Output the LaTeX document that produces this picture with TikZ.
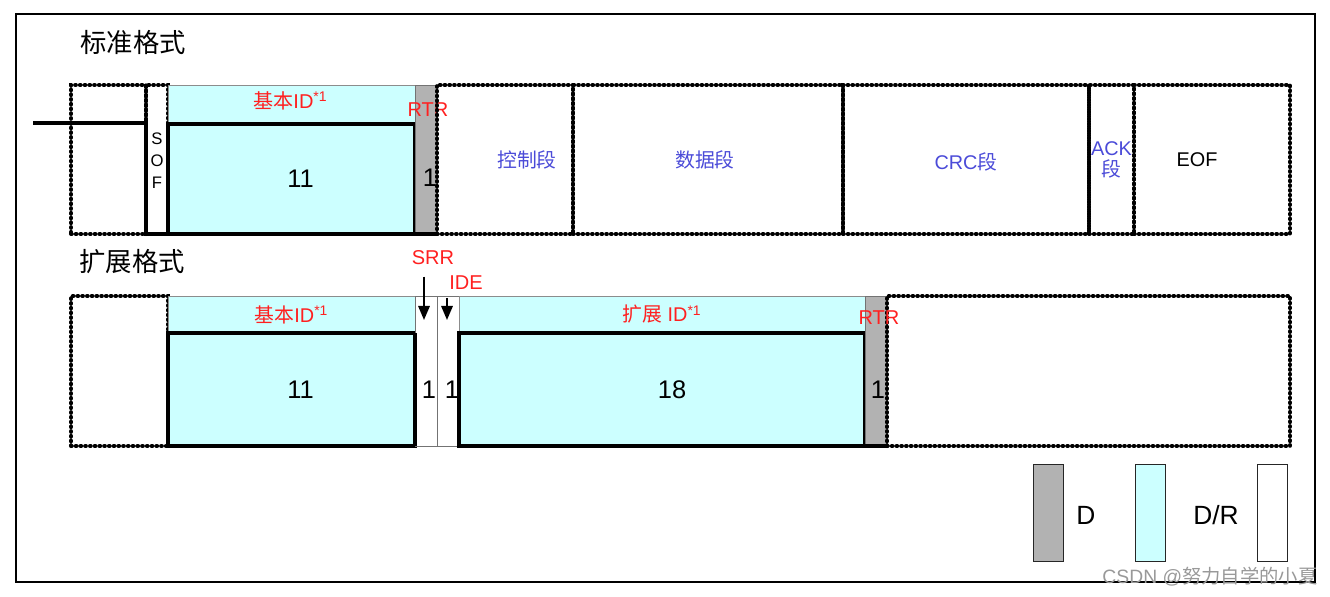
\documentclass[tikz,border=0pt]{standalone}
\usepackage{fontspec}
\setmainfont{Liberation Sans}
\newfontfamily\cjk{Noto Sans CJK SC}
\usetikzlibrary{arrows.meta,positioning}
\definecolor{idcyan}{HTML}{CCFFFF}
\definecolor{bitgray}{HTML}{B2B2B2}
\definecolor{fieldblue}{HTML}{4B4BD8}
\definecolor{lblred}{HTML}{FF2020}
\newcommand{\px}{0.02cm}
\tikzset{
  field/.style={draw=black, line width=2.3pt, dash pattern=on 0.4pt off 2.3pt, line cap=round, anchor=north west, inner sep=0pt, outer sep=0pt},
  fieldtext/.style={font=\cjk\fontsize{11.3}{14}\selectfont, text=fieldblue, inner sep=0pt},
  idtop/.style={draw=black!45, line width=0.5pt, fill=idcyan, anchor=north west, inner sep=0pt, outer sep=0pt, font=\fontsize{11.3}{13}\selectfont, text=lblred},
  idbox/.style={draw=black, line width=2.8pt, fill=idcyan, anchor=north west, inner sep=0pt, outer sep=0pt},
  bitcol/.style={draw=black!55, line width=0.5pt, anchor=north west, inner sep=0pt, outer sep=0pt, minimum width=22*\px},
  bus/.style={line width=2.8pt},
  pointer/.style={-{Triangle[length=8pt,width=6.5pt]}, line width=1.1pt},
  keybox/.style={draw=black!85, line width=0.7pt, anchor=north west, inner sep=0pt, minimum width=30*\px, minimum height=97*\px}
}
\begin{document}
\begin{tikzpicture}[x=\px, y=-\px,
  title/.style={font=\cjk\fontsize{15}{18}\selectfont},
  lbl/.style={font=\fontsize{11.4}{13}\selectfont, text=lblred},
  num/.style={font=\fontsize{14.5}{17}\selectfont, inner sep=0pt}
]
\useasboundingbox (0,0) rectangle (1330,596);
% frame
\draw[line width=0.6pt] (16,14) rectangle (1315,582);
\draw[line width=1.2pt] (16,14) -- (16,582) -- (1315,582);

% standard format
\node[title] (std) at (133,42) {标准格式};
\node[field, minimum width=75*\px, minimum height=149*\px] (idle) at (71,85) {};
\node[field, minimum width=22*\px, minimum height=149*\px] (sofgap) at (146,85) {};
\node[idtop, minimum width=247*\px, minimum height=38*\px, label={[lbl, inner sep=0pt, xshift=-1*\px, yshift=3*\px]center:{\cjk 基本}ID\textsuperscript{*1}}] (baseidtop) at (168,85) {};
\node[idbox, minimum width=247*\px, minimum height=110*\px, label={[num, xshift=9*\px]center:11}] (baseid) at (168,124) {};
\node[bitcol, fill=bitgray, minimum height=149*\px] (rtr) at (415,85) {};
\node[num] (rtrbit) at (430,178) {1};
\node[lbl] (rtrlbl) at (428,110) {RTR};
\node[font=\fontsize{9.5}{12.5}\selectfont, align=center] (sof) at (157,161) {S\\O\\F};
\node[field, minimum width=136*\px, minimum height=149*\px, label={[fieldtext, xshift=22*\px]center:控制段}] (ctrl) at (437,85) {};
\node[field, minimum width=270*\px, minimum height=149*\px, label={[fieldtext, xshift=-3*\px]center:数据段}] (data) at (573,85) {};
\node[field, minimum width=246*\px, minimum height=149*\px, label={[fieldtext, yshift=-2*\px]center:{\rmfamily CRC}段}] (crc) at (843,85) {};
\node[field, minimum width=45*\px, minimum height=149*\px, label={[fieldtext, align=center]center:{\rmfamily ACK}\\[-2pt]段}] (ack) at (1089,85) {};
\node[field, minimum width=156*\px, minimum height=149*\px, label={[fieldtext, text=black, xshift=-15*\px]center:\rmfamily EOF}] (eof) at (1134,85) {};
\coordinate (busstart) at (33,123);
\draw[bus] (busstart) -| (sofgap.south west) -- (rtr.south east);

% extended format
\node[title] (ext) at (132,262) {扩展格式};
\node[field, minimum width=97*\px, minimum height=150*\px] (xidle) at (71,296) {};
\node[idtop, minimum width=247*\px, minimum height=37*\px] (xbaseidtop) at (168,296) {{\cjk 基本}ID\textsuperscript{*1}};
\node[idbox, minimum width=247*\px, minimum height=113*\px, label={[num, xshift=9*\px]center:11}] (xbaseid) at (168,333) {};
\node[bitcol, fill=white, minimum height=150*\px] (srrbit) at (415,296) {};
\node[bitcol, fill=white, minimum height=150*\px] (idebit) at (437,296) {};
\node[num] (srrval) at (429,390) {1};
\node[num] (ideval) at (452,390) {1};
\node[idtop, minimum width=406*\px, minimum height=37*\px] (xidtop) at (459,296) {{\cjk 扩展} ID\textsuperscript{*1}};
\node[idbox, minimum width=406*\px, minimum height=113*\px, label={[num, xshift=10*\px]center:18}] (xid) at (459,333) {};
\draw[line width=2.8pt] (xbaseid.north east) -- (xbaseid.south east);
\node[bitcol, fill=bitgray, minimum height=150*\px] (xrtr) at (865,296) {};
\draw[bus] (xrtr.south west) -- (xrtr.south east);
\node[num] (xrtrbit) at (878,390) {1};
\node[field, minimum width=403*\px, minimum height=150*\px] (xrest) at (887,296) {};
\node[lbl] (xrtrlbl) at (879,318) {RTR};
\node[lbl] (srr) at (433,258) {SRR};
\node[lbl] (ide) at (466,283) {IDE};
\coordinate (srrtip) at (424,320);
\coordinate (idetip) at (447,320);
\draw[pointer] ([yshift=-3pt]srr.south -| srrtip) -- (srrtip);
\draw[pointer] ([yshift=-1pt]ide.south -| idetip) -- (idetip);

% key
\node[keybox, fill=bitgray] (keyd) at (1033,464) {};
\node[font=\fontsize{15}{18}\selectfont] (keydlbl) at (1086,515) {D};
\node[keybox, fill=idcyan] (keydr) at (1135,464) {};
\node[font=\fontsize{15}{18}\selectfont] (keydrlbl) at (1216,515) {D/R};
\node[keybox, fill=white] (keyr) at (1257,464) {};
\node[font=\fontsize{11}{13}\selectfont, text=black!40] (mark) at (1210,577) {CSDN @{\cjk 努力自学的小夏}};
\end{tikzpicture}
\end{document}
